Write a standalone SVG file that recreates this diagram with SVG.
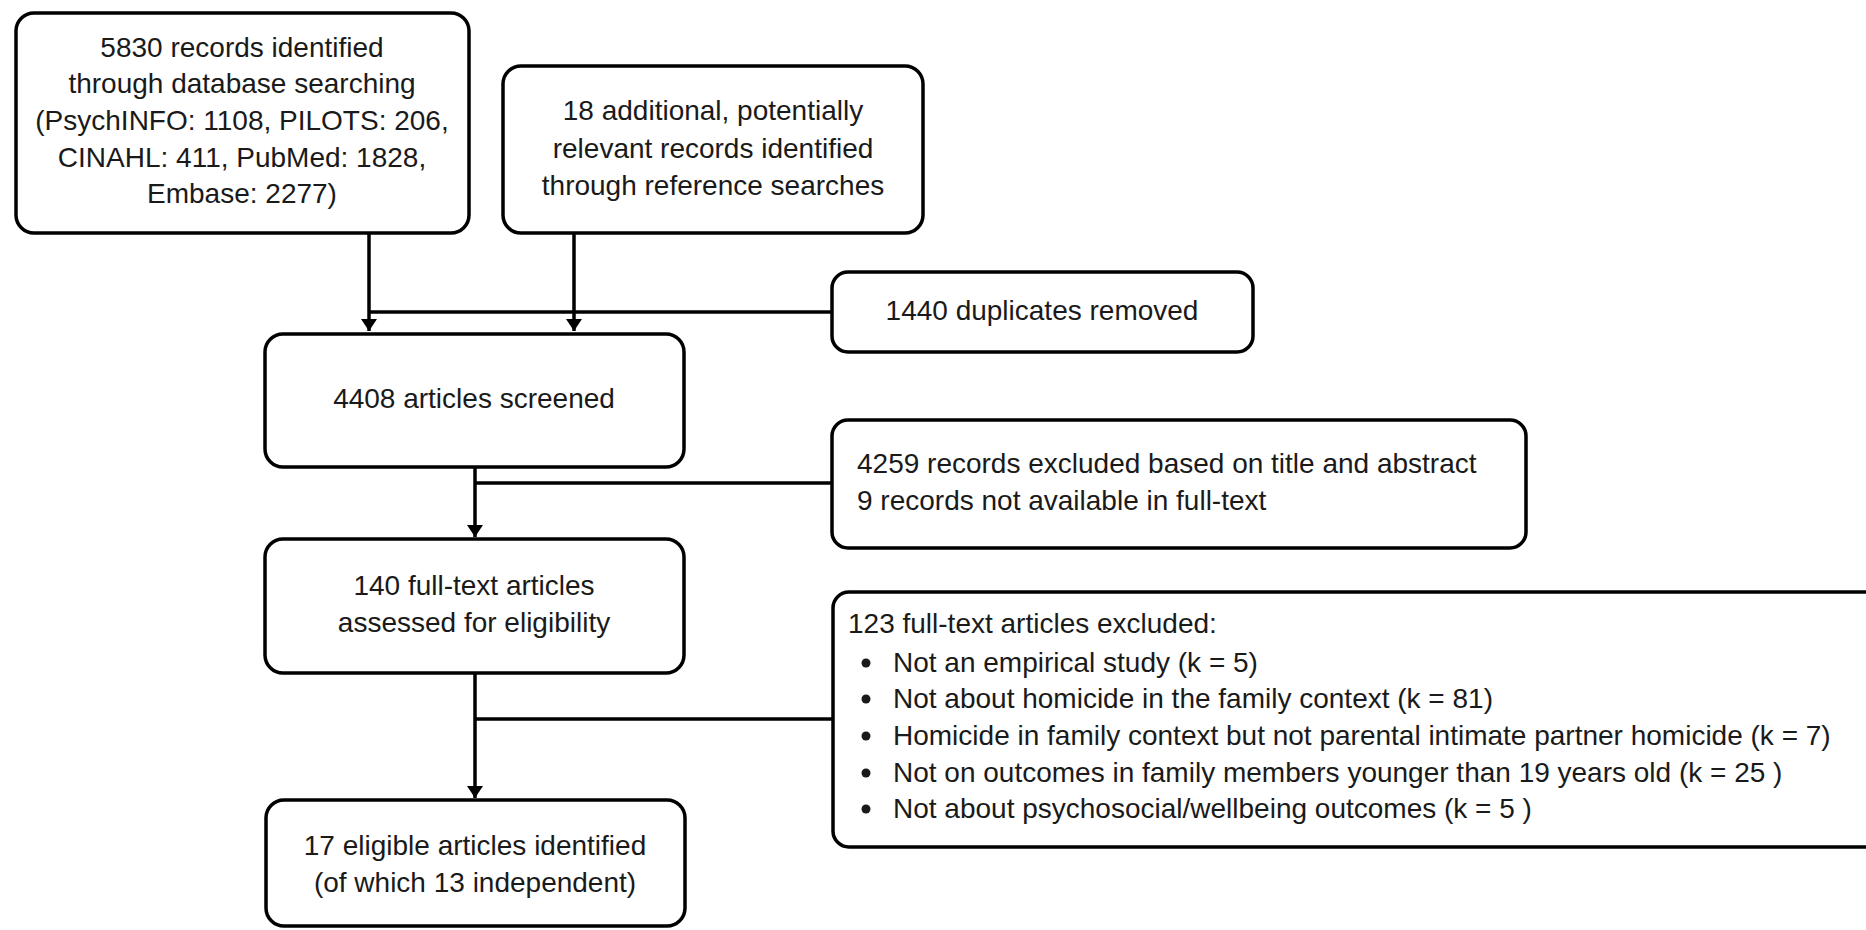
<svg xmlns="http://www.w3.org/2000/svg" width="1866" height="930" viewBox="0 0 1866 930">
<defs>
<marker id="arr" viewBox="0 0 12 16" refX="12" refY="8" markerWidth="12" markerHeight="16" markerUnits="userSpaceOnUse" orient="auto">
<path d="M0,0 L12,8 L0,16 z" fill="#000"/>
</marker>
<style>
.box{fill:#fff;stroke:#000;stroke-width:3.5}
.t{font-family:"Liberation Sans",Arial,sans-serif;font-size:28px;fill:#1a1a1a}
.c{text-anchor:middle}
.ln{fill:none;stroke:#000;stroke-width:3.5}
</style>
</defs>
<rect width="1866" height="930" fill="#fff"/>
<g id="connectors">
<path class="ln" d="M369,233 V331" marker-end="url(#arr)"/>
<path class="ln" d="M574,233 V331" marker-end="url(#arr)"/>
<path class="ln" d="M369,312 H832"/>
<path class="ln" d="M475,467 V537" marker-end="url(#arr)"/>
<path class="ln" d="M475,483 H832"/>
<path class="ln" d="M475,673 V798" marker-end="url(#arr)"/>
<path class="ln" d="M475,719 H833"/>
</g>
<g id="n1">
<rect class="box" x="16" y="13" width="453" height="220" rx="18"/>
<text class="t c" x="242" y="57">5830 records identified</text>
<text class="t c" x="242" y="93">through database searching</text>
<text class="t c" x="242" y="130">(PsychINFO: 1108, PILOTS: 206,</text>
<text class="t c" x="242" y="167">CINAHL: 411, PubMed: 1828,</text>
<text class="t c" x="242" y="203">Embase: 2277)</text>
</g>
<g id="n2">
<rect class="box" x="503" y="66" width="420" height="167" rx="18"/>
<text class="t c" x="713" y="120">18 additional, potentially</text>
<text class="t c" x="713" y="158">relevant records identified</text>
<text class="t c" x="713" y="195">through reference searches</text>
</g>
<g id="n3">
<rect class="box" x="832" y="272" width="421" height="80" rx="16"/>
<text class="t c" x="1042" y="320">1440 duplicates removed</text>
</g>
<g id="n4">
<rect class="box" x="265" y="334" width="419" height="133" rx="18"/>
<text class="t c" x="474" y="408">4408 articles screened</text>
</g>
<g id="n5">
<rect class="box" x="832" y="420" width="694" height="128" rx="16"/>
<text class="t" x="857" y="473">4259 records excluded based on title and abstract</text>
<text class="t" x="857" y="510">9 records not available in full-text</text>
</g>
<g id="n6">
<rect class="box" x="265" y="539" width="419" height="134" rx="18"/>
<text class="t c" x="474" y="595">140 full-text articles</text>
<text class="t c" x="474" y="632">assessed for eligibility</text>
</g>
<g id="n7">
<rect class="box" x="833" y="592" width="1060" height="255" rx="16"/>
<text class="t" x="848" y="633">123 full-text articles excluded:</text>
<g>
<circle cx="866" cy="663" r="4.5" fill="#1a1a1a"/>
<circle cx="866" cy="699" r="4.5" fill="#1a1a1a"/>
<circle cx="866" cy="736" r="4.5" fill="#1a1a1a"/>
<circle cx="866" cy="773" r="4.5" fill="#1a1a1a"/>
<circle cx="866" cy="809" r="4.5" fill="#1a1a1a"/>
</g>
<text class="t" x="893" y="672">Not an empirical study (k = 5)</text>
<text class="t" x="893" y="708">Not about homicide in the family context (k = 81)</text>
<text class="t" x="893" y="745">Homicide in family context but not parental intimate partner homicide (k = 7)</text>
<text class="t" x="893" y="782">Not on outcomes in family members younger than 19 years old (k = 25 )</text>
<text class="t" x="893" y="818">Not about psychosocial/wellbeing outcomes (k = 5 )</text>
</g>
<g id="n8">
<rect class="box" x="266" y="800" width="419" height="126" rx="18"/>
<text class="t c" x="475" y="855">17 eligible articles identified</text>
<text class="t c" x="475" y="892">(of which 13 independent)</text>
</g>
</svg>
